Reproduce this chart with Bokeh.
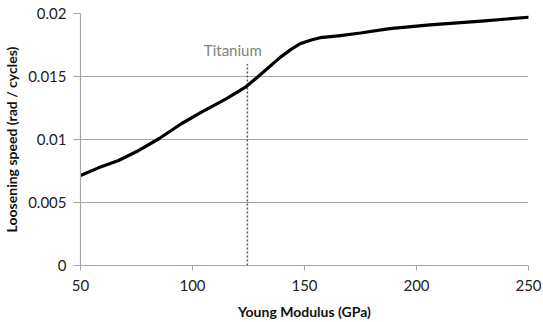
from bokeh.plotting import figure
from bokeh.models import Range1d, CustomJSTickFormatter, FixedTicker
from bokeh.core.properties import value
from bokeh.embed import file_html
from bokeh.resources import INLINE

modulus = [50, 58, 67, 76, 85, 95, 104, 115, 124, 130, 139, 144, 148, 153, 157, 166, 175, 188, 206, 229, 250]
speed = [0.00714, 0.00775, 0.00833, 0.00913, 0.01006, 0.01125, 0.01217, 0.01323, 0.0142,
         0.0151, 0.0165, 0.01715, 0.0176, 0.0179, 0.01808, 0.01825, 0.01845, 0.0188, 0.0191, 0.0194, 0.0197]
x_ticks = [50, 100, 150, 200, 250]
y_ticks = [0, 0.005, 0.01, 0.015, 0.02]
titanium_x = [124.5, 124.5]
titanium_y = [0, 0.016]
titanium_label = "Titanium"
label_pos = (118, 0.0171)

FONT = "Lato"
p = figure(width=543, height=322, output_backend="svg", toolbar_location=None,
           x_range=Range1d(50, 250), y_range=Range1d(0, 0.02),
           min_border_left=80, min_border_right=15, min_border_top=13, min_border_bottom=57)
p.outline_line_color = None
p.xgrid.grid_line_color = None
p.ygrid.grid_line_color = "#a6a6a6"
p.ygrid.grid_line_width = 1.2

p.xaxis.ticker = FixedTicker(ticks=x_ticks)
p.yaxis.ticker = FixedTicker(ticks=y_ticks)
p.yaxis.formatter = CustomJSTickFormatter(code="return String(Math.round(tick*1000)/1000);")
for ax in (p.xaxis[0], p.yaxis[0]):
    ax.axis_line_color = "#a6a6a6"
    ax.axis_line_width = 1.2
    ax.major_tick_line_color = "#a6a6a6"
    ax.minor_tick_line_color = None
    ax.major_tick_in = 0
    ax.major_label_text_font = FONT
    ax.major_label_text_font_size = "15px"
    ax.major_label_text_color = "#222222"
    ax.axis_label_text_font = FONT
    ax.axis_label_text_font_style = "bold"
    ax.axis_label_text_font_size = "14px"
    ax.axis_label_text_color = "#111111"

p.xaxis.major_tick_out = 5
p.xaxis.major_label_standoff = 9
p.xaxis.axis_label_standoff = 9
p.yaxis.major_tick_out = 7
p.yaxis.major_label_standoff = 7
p.yaxis.axis_label_standoff = 5
p.xaxis.axis_label = "Young Modulus (GPa)"
p.yaxis.axis_label = "Loosening speed (rad / cycles)"

p.line(titanium_x, titanium_y, line_color="#555555", line_width=1.5, line_dash="2 2")
p.text([label_pos[0]], [label_pos[1]], text=[titanium_label], text_font=value(FONT),
       text_font_size="15px", text_color="#808080", text_align="center", text_baseline="middle")
p.line(modulus, speed, line_color="black", line_width=3.2, line_join="round", line_cap="round")

open("out.html", "w").write(file_html(p, INLINE))
